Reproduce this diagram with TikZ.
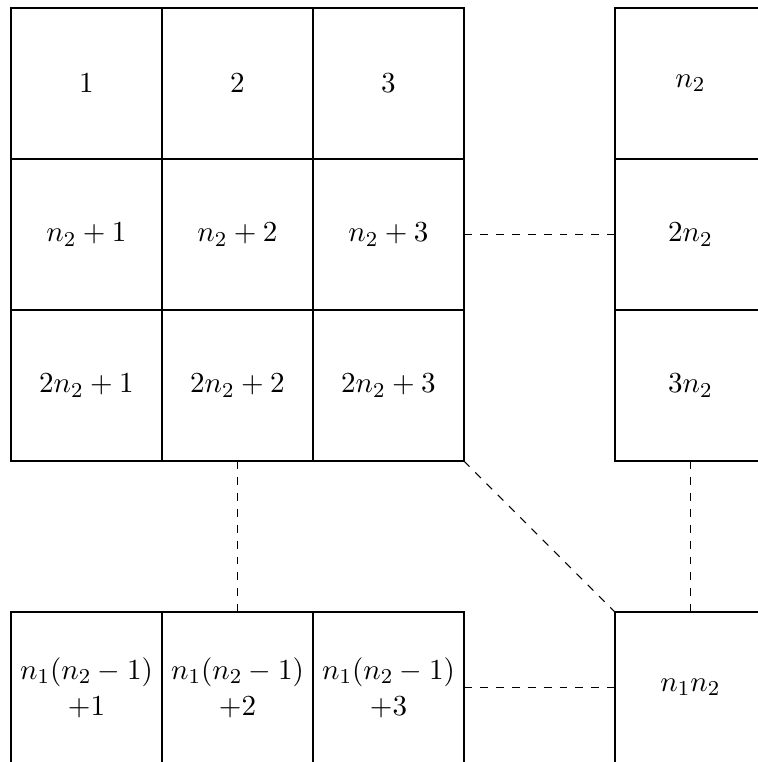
\documentclass[tikz,border=0pt]{standalone}
\begin{document}
\begin{tikzpicture}[
  cell/.style={minimum width=2cm, minimum height=2cm,
    inner sep=0pt, outer sep=0pt, align=center,
    font=\fontsize{11}{13.6}\selectfont},
  rule/.style={line width=0.4pt},
  link/.style={draw, dashed, line width=0.4pt}
]
  \useasboundingbox (-0.1457,0.106) rectangle (9.894,-9.987);
  \clip (-0.1457,0.106) rectangle (9.894,-9.987);

  % cell borders, each line drawn once (the small margins keep the outer lines in the grid)
  \draw[rule, step=2cm] (-0.01,-6.01) grid (6.01,0.01);
  \draw[rule, step=2cm] (7.99,-6.01) grid (10.01,0.01);
  \draw[rule, step=2cm] (-0.01,-10.01) grid (6.01,-7.99);
  \draw[rule] (8,-10) rectangle (10,-8);

  % upper-left block of indices
  \node[cell] (a11) at (1,-1) {$1$};
  \node[cell] (a12) at (3,-1) {$2$};
  \node[cell] (a13) at (5,-1) {$3$};
  \node[cell] (a21) at (1,-3) {$n_2+1$};
  \node[cell] (a22) at (3,-3) {$n_2+2$};
  \node[cell] (a23) at (5,-3) {$n_2+3$};
  \node[cell] (a31) at (1,-5) {$2n_2+1$};
  \node[cell] (a32) at (3,-5) {$2n_2+2$};
  \node[cell] (a33) at (5,-5) {$2n_2+3$};

  % last column
  \node[cell] (r1) at (9,-1) {$n_2$};
  \node[cell] (r2) at (9,-3) {$2n_2$};
  \node[cell] (r3) at (9,-5) {$3n_2$};

  % last row
  \node[cell] (b1) at (1,-9) {$n_1(n_2-1)$\\$+1$};
  \node[cell] (b2) at (3,-9) {$n_1(n_2-1)$\\$+2$};
  \node[cell] (b3) at (5,-9) {$n_1(n_2-1)$\\$+3$};

  % final entry
  \node[cell] (z) at (9,-9) {$n_1n_2$};

  % elided cells
  \draw[link] (a23.east) -- (r2.west);
  \draw[link] (b3.east) -- (z.west);
  \draw[link] (a32.south) -- (b2.north);
  \draw[link] (r3.south) -- (z.north);
  \draw[link] (a33.south east) -- (z.north west);
\end{tikzpicture}
\end{document}
